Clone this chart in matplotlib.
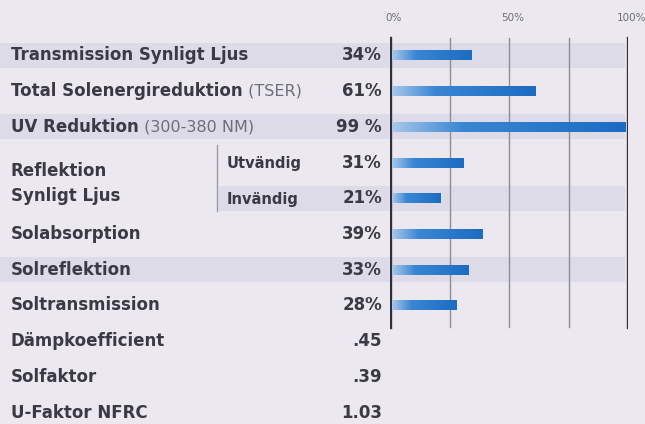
import numpy as np
import matplotlib.pyplot as plt
from matplotlib.colors import LinearSegmentedColormap

# rader i tabellen
labels = ["Transmission Synligt Ljus", "Total Solenergireduktion", "UV Reduktion",
          "", "", "Solabsorption", "Solreflektion", "Soltransmission",
          "Dämpkoefficient", "Solfaktor", "U-Faktor NFRC"]
suffix = ["", " (TSER)", " (300-380 NM)", "", "", "", "", "", "", "", ""]
sublabels = ["", "", "", "Utvändig", "Invändig", "", "", "", "", "", ""]
value_text = ["34%", "61%", "99 %", "31%", "21%", "39%", "33%", "28%", ".45", ".39", "1.03"]
bar_values = [34, 61, 99, 31, 21, 39, 33, 28]
shaded_rows = [0, 2, 4, 6]
tick_values = [0, 50, 100]
tick_labels = ["0%", "50%", "100%"]
grid_values = [0, 25, 50, 75, 100]

bg = "#ebe9ef"
band = "#dcdbe7"
ink = "#3a3944"
soft = "#6e6d7a"

fig = plt.figure(figsize=(6.45, 4.24), dpi=100, facecolor=bg)
ax = fig.add_axes([0, 0, 1, 1])
ax.set_xlim(0, 645)
ax.set_ylim(424, 0)
ax.axis("off")

row_y = 55.5 + 35.7 * np.arange(len(labels))

# bakgrundsband
for i in shaded_rows:
    x0 = 219 if i == 4 else 0
    ax.add_patch(plt.Rectangle((x0, row_y[i] - 12.5), 625 - x0, 25, color=band, lw=0, zorder=0))

font = ["DejaVu Sans"]
fs = 12
for i, lab in enumerate(labels):
    if lab:
        t = ax.text(11, row_y[i], lab, fontsize=fs, fontweight="bold", color=ink,
                    va="center", family=font)
        if suffix[i]:
            fig.canvas.draw()
            bb = t.get_window_extent().transformed(ax.transData.inverted())
            ax.text(bb.x1, row_y[i], suffix[i], fontsize=11.5, color=soft,
                    va="center", family=font)
    if sublabels[i]:
        ax.text(227, row_y[i] + 1, sublabels[i], fontsize=10.5, fontweight="bold",
                color=ink, va="center", family=font)
    ax.text(382, row_y[i], value_text[i], fontsize=fs, fontweight="bold", color=ink,
            va="center", ha="right", family=font)

ax.text(11, 171, "Reflektion", fontsize=fs, fontweight="bold", color=ink, va="center", family=font)
ax.text(11, 196, "Synligt Ljus", fontsize=fs, fontweight="bold", color=ink, va="center", family=font)
ax.plot([217, 217], [145, 211], color="#9a99a6", lw=1)

# stapeldiagram
bx = fig.add_axes([390 / 645, 0, 238 / 645, 1])
bx.set_xlim(0, 100)
bx.set_ylim(424, 0)
bx.axis("off")
bx.patch.set_alpha(0)

for g in grid_values:
    thick = g in (0, 100)
    bx.plot([g, g], [38, 327], color="#2f2e3a" if thick else "#8d8c98",
            lw=2.4 if thick else 1.0, zorder=1)

cmap = LinearSegmentedColormap.from_list(
    "bar", [(0, "#a8c8ea"), (0.3, "#3a86d2"), (1, "#1b6cc2")])
grad = np.linspace(0, 1, 256).reshape(1, -1)
for i, v in enumerate(bar_values):
    y = row_y[i]
    bx.imshow(grad, cmap=cmap, extent=[0.8, v, y + 5, y - 5], aspect="auto", zorder=2,
              interpolation="bilinear")

for v, s in zip(tick_values, tick_labels):
    bx.text(v + 1.5, 18, s, fontsize=7.5, color=soft, ha="center", va="center", family=font)

fig.savefig("out.png", dpi=100, facecolor=bg)
